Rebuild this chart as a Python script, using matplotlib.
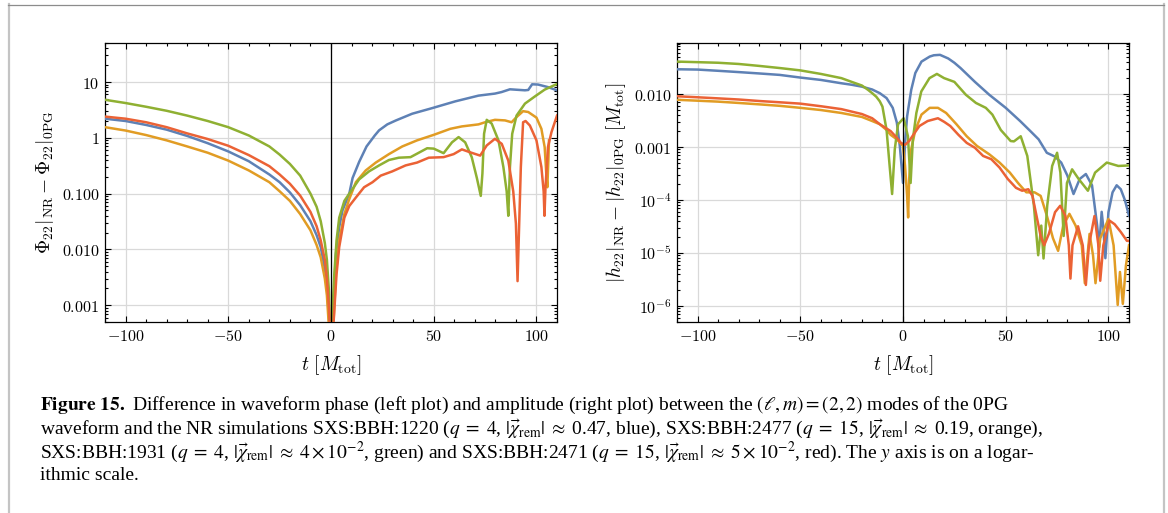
import matplotlib
matplotlib.use('Agg')
import matplotlib.pyplot as plt
from matplotlib.ticker import FixedLocator, FixedFormatter, LogLocator, MultipleLocator, NullFormatter
from matplotlib.lines import Line2D

plt.rcParams['mathtext.fontset'] = 'cm'
plt.rcParams['font.family'] = ['DejaVu Serif']

# Mathematica default colours
c_blue, c_orange, c_green, c_red = '#5e81b5', '#e19c24', '#8fb032', '#eb6235'

# ---- left panel: phase difference ----
phi_blue_t = [-110, -100, -90, -80, -70, -60, -50, -40, -30, -25, -20, -15, -10, -7, -5, -3, -2, -1, 0,
              0.8, 2.4, 4, 5.6, 8.9, 10.5, 13.7, 17.3, 21.3, 23.4, 27.4, 31.5, 39.5, 49.2, 60.5, 71.8,
              79.8, 83, 87.1, 94.4, 96, 97.9, 100.8, 105.6, 110]
phi_blue = [2.2, 2.0, 1.7, 1.4, 1.08, 0.80, 0.57, 0.38, 0.22, 0.16, 0.105, 0.062, 0.032, 0.018, 0.011,
            0.0045, 0.0022, 0.0006, 0.0001, 0.0005, 0.0083, 0.025, 0.05, 0.10, 0.19, 0.37, 0.70, 1.1,
            1.36, 1.74, 2.04, 2.7, 3.4, 4.5, 5.7, 6.2, 6.6, 7.4, 7.1, 7.2, 9.1, 9.0, 8.1, 7.1]

phi_orange_t = [-110, -100, -90, -80, -70, -60, -50, -40, -30, -25, -20, -15, -10, -7, -5, -3, -2, -1, 0,
                1.1, 2.4, 4, 6.5, 8.9, 12.1, 16.9, 21.8, 28.2, 34.7, 41.9, 50, 58.1, 63.7, 71.8, 75, 79.8,
                84.7, 87.9, 90.3, 93.5, 96, 100, 102.4, 104, 104.8, 105.3, 105.8, 106.1]
phi_orange = [1.55, 1.35, 1.12, 0.9, 0.7, 0.54, 0.39, 0.26, 0.16, 0.11, 0.074, 0.043, 0.022, 0.012,
              0.0072, 0.003, 0.0015, 0.0004, 0.0001, 0.0004, 0.0036, 0.0145, 0.043, 0.08, 0.16, 0.26,
              0.36, 0.51, 0.70, 0.9, 1.13, 1.45, 1.6, 1.74, 1.9, 2.1, 2.05, 1.9, 2.35, 3.0, 2.9, 2.3,
              1.45, 0.68, 0.22, 0.13, 0.39, 0.9]

phi_green_t = [-110, -100, -90, -80, -70, -60, -50, -40, -30, -25, -20, -15, -10, -7, -5, -3, -2, -1, 0,
               0.5, 1.6, 2.7, 4, 6.5, 8.9, 13.7, 18.5, 23.4, 28.2, 33, 38.7, 41.9, 46.8, 50, 54.8, 58.9,
               62.1, 65.3, 68.5, 71, 72.9, 73.7, 74.5, 75.8, 78.2, 81.5, 83.9, 85.5, 86.3, 87.1, 88.2,
               90.3, 94.4, 99.2, 104, 109.7]
phi_green = [4.8, 4.2, 3.6, 3.05, 2.5, 2.0, 1.55, 1.1, 0.70, 0.50, 0.34, 0.21, 0.10, 0.058, 0.032, 0.013,
             0.0065, 0.0018, 0.0001, 0.0005, 0.0036, 0.0145, 0.037, 0.074, 0.10, 0.18, 0.25, 0.32, 0.40,
             0.44, 0.45, 0.52, 0.65, 0.64, 0.53, 0.83, 1.03, 0.83, 0.45, 0.19, 0.091, 0.23, 1.18, 2.1,
             1.8, 0.9, 0.3, 0.11, 0.04, 0.3, 1.18, 2.5, 4.1, 5.5, 7.3, 9.1]

phi_red_t = [-110, -100, -90, -80, -70, -60, -50, -40, -30, -25, -20, -15, -10, -7, -5, -3, -2, -1, 0,
             1.1, 2.7, 4, 6.5, 8.9, 12.1, 16.1, 20.2, 24.2, 29.8, 36.3, 41.9, 47.6, 54.8, 59.7, 63.7,
             67.7, 72.6, 75.8, 79.8, 83.1, 86.3, 88.7, 90, 90.8, 91.6, 92.4, 93.5, 94.7, 96.8, 100,
             102.4, 103.5, 103.9, 104.4, 105.6, 107.3, 110]
phi_red = [2.4, 2.2, 1.9, 1.55, 1.2, 0.95, 0.72, 0.49, 0.31, 0.22, 0.15, 0.092, 0.047, 0.026, 0.0145,
           0.0065, 0.003, 0.0009, 0.0001, 0.0004, 0.0036, 0.011, 0.037, 0.06, 0.085, 0.13, 0.16, 0.21,
           0.25, 0.32, 0.36, 0.44, 0.45, 0.51, 0.62, 0.55, 0.48, 0.73, 0.96, 0.78, 0.39, 0.11, 0.029,
           0.0027, 0.029, 0.3, 1.9, 2.0, 1.66, 0.9, 0.3, 0.11, 0.04, 0.13, 0.68, 1.26, 2.5]

# ---- right panel: amplitude difference ----
amp_blue_t = [-110, -100, -90, -80, -70, -60, -50, -40, -30, -25, -20, -15, -11.3, -8, -5, -3, -1.5, 0,
              1, 2, 4, 6, 9, 13, 15, 18, 22, 25, 28, 35, 42, 50, 57, 62, 66, 70, 74, 77, 80, 83, 86, 89,
              92, 94.5, 95.5, 96.7, 97.5, 98.5, 100, 102, 104, 106, 108, 110]
amp_blue = [0.0294, 0.029, 0.0275, 0.026, 0.0245, 0.023, 0.0205, 0.0185, 0.016, 0.015, 0.0138, 0.0122,
            0.0104, 0.0084, 0.0055, 0.0029, 0.0010, 2.1e-4, 0.0012, 0.0038, 0.012, 0.025, 0.041, 0.051,
            0.054, 0.055, 0.047, 0.039, 0.031, 0.017, 0.0097, 0.0055, 0.0031, 0.0020, 0.0014, 7.8e-4,
            6.6e-4, 5.1e-4, 2.9e-4, 1.3e-4, 2.5e-4, 3.1e-4, 1.9e-4, 3.3e-5, 1.3e-5, 6e-5, 3e-5, 8e-6,
            5.9e-5, 1.4e-4, 1.9e-4, 1.6e-4, 1.0e-4, 5.1e-5]

amp_orange_t = [-110, -100, -90, -80, -70, -60, -50, -40, -30, -20, -15, -11.3, -8, -6, -3, 0, 1, 2, 2.5,
                3, 4, 6, 9, 13, 17, 21, 26, 31, 36, 42, 47, 52, 56, 60, 64, 67, 70, 73, 75.5, 78, 81, 84,
                87, 88.5, 90.8, 92.5, 93.7, 96, 100, 102.5, 104.5, 105.6, 107, 108.5, 110]
amp_orange = [0.0078, 0.0075, 0.0072, 0.0068, 0.0064, 0.006, 0.0055, 0.005, 0.0044, 0.0037, 0.0031,
              0.0027, 0.0021, 0.0017, 0.0014, 0.00105, 4.4e-4, 1.2e-4, 4.7e-5, 2.5e-4, 9.1e-4, 0.0021,
              0.0041, 0.0055, 0.0055, 0.0044, 0.0027, 0.0016, 0.00105, 7.3e-4, 5.1e-4, 3.3e-4, 2.1e-4,
              1.4e-4, 1.4e-4, 1.2e-4, 5.1e-5, 1.9e-5, 1.1e-5, 3.3e-5, 5.5e-5, 3.3e-5, 1.4e-5, 2.7e-6,
              2.3e-5, 9e-6, 2.7e-6, 1.9e-5, 4.4e-5, 1.4e-5, 1.05e-6, 4.4e-6, 1.1e-6, 5.8e-6, 1.4e-5]

amp_green_t = [-110, -100, -90, -80, -70, -60, -50, -40, -30, -25, -20, -17, -15, -13, -11.3, -10, -8,
               -6.5, -5.3, -4, -2.4, 0.3, 2.4, 3.7, 4.8, 6.5, 8.9, 12.9, 16.5, 20, 25, 30.6, 35.5, 40.3,
               43.5, 47.6, 52.4, 54, 57.3, 60.5, 63.7, 65.8, 67.3, 68.4, 70.2, 72.6, 75, 76.6, 78.2, 79.8,
               82.3, 85.5, 90, 93.5, 99.2, 104.8, 110]
amp_green = [0.041, 0.040, 0.039, 0.037, 0.034, 0.031, 0.028, 0.024, 0.020, 0.017, 0.0145, 0.012,
             0.0104, 0.0089, 0.0073, 0.0058, 0.0021, 4.4e-4, 1.3e-4, 9.1e-4, 0.0027, 0.0035, 0.0016,
             2.1e-4, 0.0014, 0.0044, 0.0112, 0.020, 0.024, 0.020, 0.017, 0.0097, 0.0068, 0.0055,
             0.0041, 0.0021, 0.0013, 0.00128, 0.0016, 6.8e-4, 7.9e-5, 9.1e-6, 3.3e-5, 7.9e-6, 7.9e-5,
             4.4e-4, 7.8e-4, 3.3e-4, 2.1e-5, 2.1e-4, 3.8e-4, 2.5e-4, 1.5e-4, 3.3e-4, 5.1e-4, 4.4e-4,
             4.5e-4]

amp_red_t = [-110, -100, -90, -80, -70, -60, -50, -40, -30, -20, -15, -11.3, -6, -3, -1, 1, 3, 5, 8, 12,
             17, 20, 23, 27, 31, 35, 39, 43, 47, 51, 55, 58, 61, 63, 65, 67, 68.7, 71, 74, 76.5, 79,
             80.7, 81.5, 82.5, 85.2, 87.5, 89, 90.5, 93.2, 95, 96, 97.5, 100.5, 103, 106, 109, 110]
amp_red = [0.0091, 0.0087, 0.0083, 0.0079, 0.0074, 0.007, 0.0066, 0.0059, 0.0052, 0.0042, 0.0035,
           0.0027, 0.0020, 0.0015, 0.0012, 0.0011, 0.0013, 0.0017, 0.0025, 0.0031, 0.0035, 0.0030,
           0.0025, 0.0017, 0.0012, 9.7e-4, 6.8e-4, 5.9e-4, 4.1e-4, 2.5e-4, 1.7e-4, 1.5e-4, 1.6e-4,
           1.2e-4, 5e-5, 2.1e-5, 1.4e-5, 2.3e-5, 5.9e-5, 7.8e-5, 5.1e-5, 1.4e-5, 3.3e-6, 1.4e-5,
           3.2e-5, 1.4e-5, 2.5e-6, 1.4e-5, 5e-5, 1.5e-5, 3e-6, 1.4e-5, 4.1e-5, 3.5e-5, 2.5e-5, 1.7e-5,
           1.7e-5]

x_ticks = [-100, -50, 0, 50, 100]
x_labels = [r'$-100$', r'$-50$', r'$0$', r'$50$', r'$100$']
phi_ticks = [1e-3, 1e-2, 1e-1, 1, 10]
phi_labels = [r'$0.001$', r'$0.010$', r'$0.100$', r'$1$', r'$10$']
amp_ticks = [1e-6, 1e-5, 1e-4, 1e-3, 1e-2]
amp_labels = [r'$10^{-6}$', r'$10^{-5}$', r'$10^{-4}$', r'$0.001$', r'$0.010$']

chi = r'$|\vec{\chi}_{\rm rem}|\;\approx\;$'
caption = [
    r'$\mathbf{Figure\ 15.}$ Difference in waveform phase (left plot) and amplitude (right plot) between the '
    r'$(\ell, m) = (2, 2)$ modes of the 0PG',
    r'waveform and the NR simulations SXS:BBH:1220 ($q\;=\;4$, ' + chi + r'0.47, blue), '
    r'SXS:BBH:2477 ($q\;=\;15$, ' + chi + r'0.19, orange),',
    r'SXS:BBH:1931 ($q\;=\;4$, ' + chi + r'$4 \times 10^{-2}$, green) and SXS:BBH:2471 '
    r'($q\;=\;15$, ' + chi + r'$5 \times 10^{-2}$, red). The $y$ axis is on a logar-',
    'ithmic scale.',
]

W, H = 1168, 513
fig = plt.figure(figsize=(W / 100, H / 100), dpi=100)
ax1 = fig.add_axes([105 / W, 1 - 322 / H, 452 / W, 279 / H])
ax2 = fig.add_axes([677 / W, 1 - 322 / H, 452 / W, 279 / H])

series1 = [(phi_blue_t, phi_blue, c_blue), (phi_orange_t, phi_orange, c_orange),
           (phi_green_t, phi_green, c_green), (phi_red_t, phi_red, c_red)]
series2 = [(amp_blue_t, amp_blue, c_blue), (amp_orange_t, amp_orange, c_orange),
           (amp_green_t, amp_green, c_green), (amp_red_t, amp_red, c_red)]

for ax, series, ylim, yt, yl in [(ax1, series1, (5e-4, 50), phi_ticks, phi_labels),
                                 (ax2, series2, (5e-7, 0.092), amp_ticks, amp_labels)]:
    ax.set_yscale('log')
    for t, v, c in series:
        ax.plot(t, v, color=c, lw=1.8, solid_joinstyle='round', zorder=3)
    ax.axvline(0, color='black', lw=0.9, zorder=4)
    ax.set_xlim(-110, 110)
    ax.set_ylim(*ylim)
    ax.xaxis.set_major_locator(FixedLocator(x_ticks))
    ax.xaxis.set_major_formatter(FixedFormatter(x_labels))
    ax.xaxis.set_minor_locator(MultipleLocator(10))
    ax.yaxis.set_major_locator(FixedLocator(yt))
    ax.yaxis.set_major_formatter(FixedFormatter(yl))
    ax.yaxis.set_minor_locator(LogLocator(base=10, subs=range(2, 10), numticks=20))
    ax.yaxis.set_minor_formatter(NullFormatter())
    ax.grid(True, which='major', color='#d9d9d9', lw=0.9, zorder=0)
    ax.set_axisbelow(True)
    ax.tick_params(which='both', direction='in', top=True, right=True, width=0.8, labelsize=11.5, pad=4)
    ax.tick_params(which='major', length=4)
    ax.tick_params(which='minor', length=2.2)
    for s in ax.spines.values():
        s.set_linewidth(0.9)
    ax.set_xlabel(r'$t\ [M_{\rm tot}]$', fontsize=14, labelpad=6)

ax1.set_ylabel(r'$\Phi_{22}|_{\rm NR} - \Phi_{22}|_{\rm 0PG}$', fontsize=14, labelpad=4)
ax2.set_ylabel(r'$|h_{22}|_{\rm NR} - |h_{22}|_{\rm 0PG}\ [M_{\rm tot}]$', fontsize=14, labelpad=4)

# page frame around the figure
fig.add_artist(Line2D([8.5 / W, 8.5 / W], [0, 1 - 4 / H], color='#c4c4c4', lw=1.6))
fig.add_artist(Line2D([1164 / W, 1164 / W], [0, 1 - 4 / H], color='#c4c4c4', lw=1.6))
fig.add_artist(Line2D([8 / W, 1164 / W], [1 - 4.5 / H, 1 - 4.5 / H], color='#8c8c8c', lw=0.9))

for i, line in enumerate(caption):
    fig.text(40 / W, 1 - (405 + 23.5 * i) / H, line, fontsize=14, family='Liberation Serif',
             math_fontfamily='stix', va='center', ha='left')

fig.savefig('out.png', dpi=100)
